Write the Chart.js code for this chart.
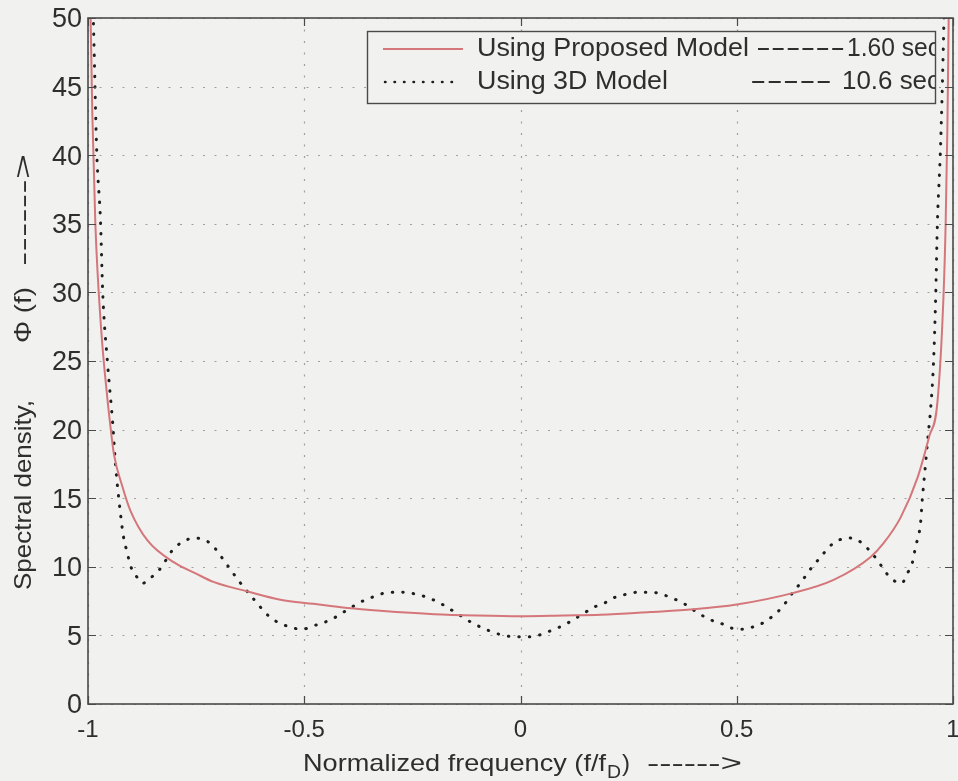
<!DOCTYPE html>
<html>
<head>
<meta charset="utf-8">
<script src="https://cdn.jsdelivr.net/npm/chart.js@4.4.1/dist/chart.umd.min.js"></script>
<style>
  html, body { margin: 0; padding: 0; background: #f1f1ef; }
  #wrap { width: 958px; height: 781px; position: relative; }
</style>
</head>
<body>
<div id="wrap"><canvas id="c"></canvas></div>
<script>
// ---- data ----
const xTickValues = [-1, -0.5, 0, 0.5, 1];
const yTickValues = [0, 5, 10, 15, 20, 25, 30, 35, 40, 45, 50];

const proposedFreq = [-0.996, -0.994, -0.99, -0.983, -0.97, -0.955, -0.948, -0.94, -0.92, -0.902,
  -0.862, -0.8, -0.75, -0.71, -0.631, -0.555, -0.479, -0.4, -0.324, -0.2, -0.1, 0,
  0.1, 0.185, 0.3, 0.4, 0.5, 0.631, 0.724, 0.809, 0.839, 0.879, 0.918, 0.945, 0.964,
  0.978, 0.983, 0.987, 0.99, 0.993];
const proposedVals = [55, 50, 43, 35, 27.5, 22.2, 20.2, 18.2, 15.8, 14.1,
  11.9, 10.3, 9.5, 8.9, 8.2, 7.6, 7.3, 7.0, 6.8, 6.55, 6.45, 6.4,
  6.45, 6.5, 6.7, 6.9, 7.25, 8.1, 9.05, 10.7, 11.7, 13.6, 16.5, 19.5, 22,
  29.7, 35, 42, 50, 58];

const model3dFreq = [-0.995, -0.987, -0.980, -0.971, -0.966, -0.955, -0.943, -0.936, -0.925, -0.918,
  -0.909, -0.902, -0.890, -0.874, -0.851, -0.832, -0.805, -0.782, -0.754, -0.717,
  -0.682, -0.652, -0.617, -0.578, -0.532, -0.504, -0.479, -0.458, -0.435, -0.414,
  -0.393, -0.372, -0.349, -0.326, -0.282, -0.257, -0.229, -0.206, -0.183, -0.157,
  -0.134, -0.111, -0.088, -0.065, -0.039, -0.007, 0.025, 0.051, 0.074, 0.097,
  0.12, 0.143, 0.173, 0.197, 0.22, 0.245, 0.271, 0.303, 0.331, 0.356,
  0.379, 0.4, 0.423, 0.446, 0.462, 0.486, 0.509, 0.536, 0.56, 0.583,
  0.606, 0.629, 0.647, 0.664, 0.677, 0.694, 0.712, 0.733, 0.761, 0.791,
  0.809, 0.825, 0.839, 0.855, 0.881, 0.895, 0.906, 0.913, 0.925, 0.929,
  0.936, 0.943, 0.948, 0.955, 0.960, 0.964, 0.971, 0.978, 0.984];
const model3dVals = [58, 49.1, 40.4, 35.1, 30.0, 24.9, 20.5, 17.3, 13.9, 12.2,
  11.0, 10.1, 9.4, 8.8, 9.3, 9.9, 11.2, 11.8, 12.1, 11.7,
  10.3, 9.0, 7.65, 6.3, 5.6, 5.45, 5.7, 5.9, 6.2, 6.6,
  7.0, 7.4, 7.7, 8.0, 8.15, 8.1, 7.9, 7.65, 7.3, 6.8,
  6.35, 5.9, 5.55, 5.25, 5.0, 4.9, 4.9, 5.1, 5.4, 5.7,
  6.1, 6.55, 7.1, 7.4, 7.8, 8.0, 8.15, 8.15, 7.95, 7.65,
  7.3, 6.85, 6.4, 6.05, 5.9, 5.55, 5.45, 5.6, 5.9, 6.4,
  7.1, 8.1, 8.8, 9.55, 10.1, 10.7, 11.4, 11.9, 12.1, 11.7,
  11.1, 10.5, 9.85, 9.2, 8.8, 9.55, 10.3, 11.4, 13.2, 14.9,
  17.3, 19.75, 21.4, 24.9, 29.7, 35.1, 40.4, 48.4, 58];

const legendNames = ["Using Proposed Model", "Using 3D Model"];
const legendDashes = ["------", "-----"];
const legendTimes = ["1.60 sec", "10.6 sec"];
const xTitleA = "Normalized frequency (f/f";
const xTitleSub = "D";
const xTitleB = ")";
const arrowText = "------>";
const yTitleA = "Spectral density,";
const yTitleB = "\u03A6 (f)";

// ---- styles ----
const BG = '#f1f1ef';
const AXIS = '#4a4a4a';
const TEXT = '#2e2e2e';
const GRID = '#a0a0a0';
const RED = '#d4767a';
const DOT = '#1e1e1e';
const FONT = '"Liberation Sans", Arial, Helvetica, sans-serif';

function fmtTick(v) {
  return String(v);
}

// draw text so that it spans a given width along its own direction
function drawFit(ctx, text, x, y, w) {
  const m = ctx.measureText(text).width;
  ctx.save();
  ctx.translate(x, y);
  ctx.scale(w / m, 1);
  ctx.textAlign = 'left';
  ctx.fillText(text, 0, 0);
  ctx.restore();
}

const framePlugin = {
  id: 'frame',
  beforeDraw(chart) {
    const ctx = chart.ctx;
    ctx.save();
    ctx.fillStyle = BG;
    ctx.fillRect(0, 0, chart.width, chart.height);
    ctx.restore();
  },
  beforeDatasetsDraw(chart) {
    const { ctx, chartArea: a, scales } = chart;
    ctx.save();
    ctx.strokeStyle = GRID;
    ctx.lineWidth = 1.2;
    ctx.setLineDash([2, 9.5]);
    scales.x.ticks.forEach(t => {
      const px = Math.round(scales.x.getPixelForValue(t.value)) + 0.5;
      ctx.beginPath(); ctx.moveTo(px, a.top); ctx.lineTo(px, a.bottom); ctx.stroke();
    });
    scales.y.ticks.forEach(t => {
      const py = Math.round(scales.y.getPixelForValue(t.value)) + 0.5;
      ctx.beginPath(); ctx.moveTo(a.left, py); ctx.lineTo(a.right, py); ctx.stroke();
    });
    ctx.restore();
  },
  afterDatasetsDraw(chart) {
    const { ctx, chartArea: a, scales } = chart;
    ctx.save();
    // inward tick marks
    ctx.strokeStyle = AXIS;
    ctx.lineWidth = 1.2;
    const tl = 8;
    scales.x.ticks.forEach(t => {
      const px = Math.round(scales.x.getPixelForValue(t.value)) + 0.5;
      ctx.beginPath();
      ctx.moveTo(px, a.bottom); ctx.lineTo(px, a.bottom - tl);
      ctx.moveTo(px, a.top); ctx.lineTo(px, a.top + tl);
      ctx.stroke();
    });
    scales.y.ticks.forEach(t => {
      const py = Math.round(scales.y.getPixelForValue(t.value)) + 0.5;
      ctx.beginPath();
      ctx.moveTo(a.left, py); ctx.lineTo(a.left + tl, py);
      ctx.moveTo(a.right, py); ctx.lineTo(a.right - tl, py);
      ctx.stroke();
    });
    // box
    ctx.lineWidth = 1.6;
    ctx.strokeRect(a.left, a.top, a.right - a.left, a.bottom - a.top);

    // legend
    const bx = 367, by = 31, bw = 568, bh = 72;
    ctx.fillStyle = BG;
    ctx.fillRect(bx, by, bw, bh);
    ctx.save();
    ctx.beginPath(); ctx.rect(bx, by, bw, bh); ctx.clip();
    const r1 = by + 18, r2 = by + 51;
    ctx.strokeStyle = RED; ctx.lineWidth = 2;
    ctx.beginPath(); ctx.moveTo(bx + 16, r1); ctx.lineTo(bx + 96, r1); ctx.stroke();
    ctx.strokeStyle = DOT; ctx.lineWidth = 2.5; ctx.lineCap = 'round';
    ctx.setLineDash([0.5, 9]);
    ctx.beginPath(); ctx.moveTo(bx + 18, r2); ctx.lineTo(bx + 92, r2); ctx.stroke();
    ctx.setLineDash([]);
    ctx.fillStyle = TEXT;
    ctx.font = '25px ' + FONT;
    ctx.textBaseline = 'middle';
    drawFit(ctx, legendNames[0], 477, r1, 272);
    drawFit(ctx, legendDashes[0], 756, r1, 89);
    drawFit(ctx, legendTimes[0], 847, r1, 93);
    drawFit(ctx, legendNames[1], 477, r2, 191);
    drawFit(ctx, legendDashes[1], 750, r2, 82);
    drawFit(ctx, legendTimes[1], 842, r2, 98);
    ctx.restore();
    ctx.strokeStyle = AXIS; ctx.lineWidth = 1.4;
    ctx.strokeRect(bx + 0.5, by + 0.5, bw, bh);

    // x axis title
    ctx.fillStyle = TEXT;
    ctx.textBaseline = 'alphabetic';
    const base = 771;
    ctx.font = '24px ' + FONT;
    drawFit(ctx, xTitleA, 303, base, 303);
    ctx.font = '18px ' + FONT;
    drawFit(ctx, xTitleSub, 607, base + 7, 14);
    ctx.font = '24px ' + FONT;
    drawFit(ctx, xTitleB, 622, base, 8);
    drawFit(ctx, arrowText, 647, base, 95);

    // y axis title (rotated)
    ctx.save();
    ctx.translate(31, 0);
    ctx.rotate(-Math.PI / 2);
    ctx.font = '24px ' + FONT;
    // along-text coordinate = -pageY
    drawFit(ctx, yTitleA, -590, 0, 190);
    drawFit(ctx, yTitleB, -343, 0, 56);
    drawFit(ctx, arrowText, -266, 0, 112);
    ctx.restore();

    ctx.restore();
  }
};

const ctx = document.getElementById('c');
new Chart(ctx, {
  type: 'line',
  data: {
    datasets: [
      {
        label: legendNames[0],
        data: proposedFreq.map((f, i) => ({ x: f, y: proposedVals[i] })),
        borderColor: RED,
        borderWidth: 2,
        pointRadius: 0,
        cubicInterpolationMode: 'monotone',
        fill: false
      },
      {
        label: legendNames[1],
        data: model3dFreq.map((f, i) => ({ x: f, y: model3dVals[i] })),
        borderColor: DOT,
        borderWidth: 3,
        borderDash: [0.5, 10],
        borderCapStyle: 'round',
        pointRadius: 0,
        cubicInterpolationMode: 'monotone',
        fill: false
      }
    ]
  },
  options: {
    responsive: true,
    maintainAspectRatio: false,
    animation: false,
    devicePixelRatio: 1,
    layout: { padding: { top: 18, right: 5, left: 0, bottom: 0 } },
    plugins: {
      legend: { display: false },
      tooltip: { enabled: false },
      title: { display: false }
    },
    scales: {
      x: {
        type: 'linear',
        min: -1, max: 1,
        afterBuildTicks(scale) { scale.ticks = xTickValues.map(v => ({ value: v })); },
        afterFit(scale) {
          scale.height = 77;
          scale.paddingLeft = 0; scale.paddingRight = 0;
        },
        grid: { display: false, drawTicks: false },
        border: { display: false },
        ticks: {
          color: TEXT,
          font: { family: FONT, size: 24 },
          padding: 12,
          maxRotation: 0,
          autoSkip: false,
          callback: (v) => fmtTick(v)
        }
      },
      y: {
        type: 'linear',
        min: 0, max: 50,
        afterBuildTicks(scale) { scale.ticks = yTickValues.map(v => ({ value: v })); },
        afterFit(scale) {
          scale.width = 88;
          scale.paddingTop = 0; scale.paddingBottom = 0;
        },
        grid: { display: false, drawTicks: false },
        border: { display: false },
        ticks: {
          color: TEXT,
          font: { family: FONT, size: 27 },
          padding: 6,
          labelOffset: 2,
          autoSkip: false,
          callback: (v) => fmtTick(v)
        }
      }
    }
  },
  plugins: [framePlugin]
});
</script>
</body>
</html>
